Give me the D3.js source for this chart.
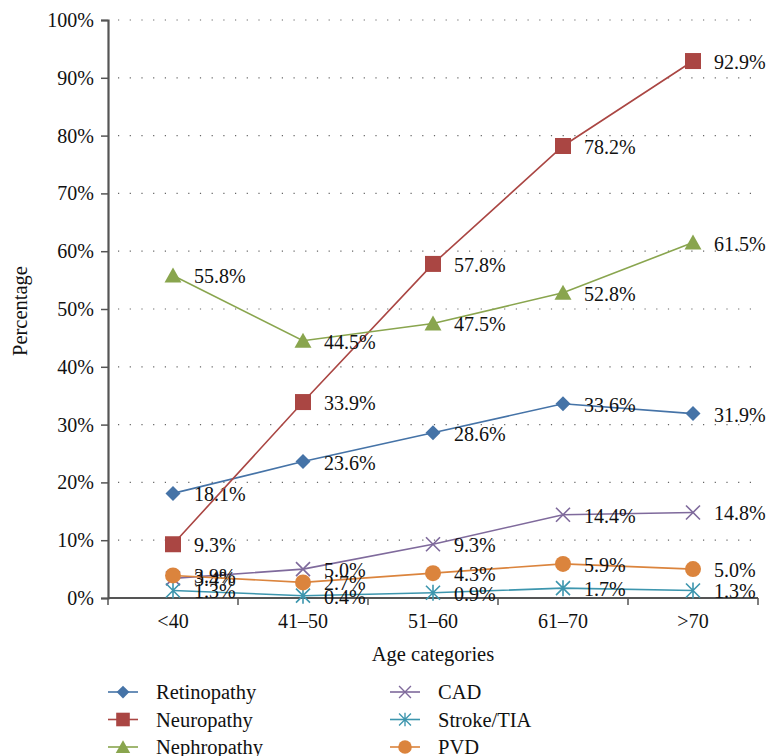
<!DOCTYPE html>
<html>
<head>
<meta charset="utf-8">
<script src="https://cdn.jsdelivr.net/npm/d3@7"></script>
<style>
  body { margin: 0; background: #fff; }
  text { font-family: "Liberation Serif", "DejaVu Serif", serif; fill: #111; }
</style>
</head>
<body>
<div id="chart"></div>
<script>
// chart data
const categories = ['<40', '41\u201350', '51\u201360', '61\u201370', '>70'];
const seriesNames = ['Retinopathy', 'Neuropathy', 'Nephropathy', 'CAD', 'Stroke/TIA', 'PVD'];
const retinopathy = [18.1, 23.6, 28.6, 33.6, 31.9];
const neuropathy = [9.3, 33.9, 57.8, 78.2, 92.9];
const nephropathy = [55.8, 44.5, 47.5, 52.8, 61.5];
const cad = [3.4, 5.0, 9.3, 14.4, 14.8];
const stroke = [1.3, 0.4, 0.9, 1.7, 1.3];
const pvd = [3.9, 2.7, 4.3, 5.9, 5.0];
const yTicks = [0, 10, 20, 30, 40, 50, 60, 70, 80, 90, 100];

const colors = ['#4573a7', '#aa4643', '#89a54e', '#7f6a9c', '#3d96ae', '#db843d'];
const shapes = ['diamond', 'square', 'triangle', 'x', 'star', 'circle'];
const allValues = [retinopathy, neuropathy, nephropathy, cad, stroke, pvd];

const series = seriesNames.map((name, i) => ({
  name, color: colors[i], shape: shapes[i],
  values: allValues[i].map((v, j) => ({ cat: categories[j], v }))
}));

const width = 767, height = 756;
const margin = { top: 20, right: 9, bottom: 158, left: 108 };
const innerW = width - margin.left - margin.right;
const innerH = height - margin.top - margin.bottom;
const fs = '20px';

const svg = d3.select('#chart').append('svg')
  .attr('width', width)
  .attr('height', height);

const g = svg.append('g')
  .attr('transform', 'translate(' + margin.left + ',' + margin.top + ')');

const x = d3.scaleBand().domain(categories).range([0, innerW]);
const y = d3.scaleLinear().domain([0, 100]).range([innerH, 0]);
const cx = d => x(d) + x.bandwidth() / 2;

// dotted gridlines
g.append('g').selectAll('line')
  .data(yTicks.filter(t => t > 0))
  .enter().append('line')
  .attr('x1', 0).attr('x2', innerW)
  .attr('y1', d => y(d)).attr('y2', d => y(d))
  .attr('stroke', '#666')
  .attr('stroke-width', 1.2)
  .attr('stroke-dasharray', '1.2 10.5')
  .attr('stroke-dashoffset', -10);

// y axis
const yAxis = g.append('g')
  .call(d3.axisLeft(y).tickValues(yTicks).tickFormat(d => d + '%').tickSize(7).tickPadding(7));
yAxis.select('.domain').attr('stroke', '#555').attr('stroke-width', 2.2);
yAxis.selectAll('.tick line').attr('stroke', '#555').attr('stroke-width', 1.5);
yAxis.selectAll('.tick text').style('font-size', fs).attr('fill', '#111');

// x axis (ticks at band edges)
const xAxis = g.append('g')
  .attr('transform', 'translate(0,' + innerH + ')');
xAxis.append('line')
  .attr('x1', 0).attr('x2', innerW)
  .attr('stroke', '#555').attr('stroke-width', 2.2);
xAxis.selectAll('.edge')
  .data(categories.concat(['end']))
  .enter().append('line')
  .attr('class', 'edge')
  .attr('x1', (d, i) => i * x.bandwidth()).attr('x2', (d, i) => i * x.bandwidth())
  .attr('y1', 0).attr('y2', 7)
  .attr('stroke', '#555').attr('stroke-width', 1.5);
xAxis.selectAll('.lbl')
  .data(categories)
  .enter().append('text')
  .attr('class', 'lbl')
  .attr('x', d => cx(d))
  .attr('y', 30)
  .attr('text-anchor', 'middle')
  .style('font-size', fs)
  .text(d => d);

// axis titles
svg.append('text')
  .attr('x', margin.left + innerW / 2)
  .attr('y', 661)
  .attr('text-anchor', 'middle')
  .style('font-size', '20.5px')
  .text('Age categories');

svg.append('text')
  .attr('transform', 'translate(27,' + 311 + ') rotate(-90)')
  .attr('text-anchor', 'middle')
  .style('font-size', '20.5px')
  .text('Percentage');

// marker drawing
function marker(sel, shape, color) {
  if (shape === 'circle') {
    sel.append('circle').attr('r', 8).attr('fill', color);
  } else if (shape === 'diamond') {
    sel.append('path').attr('d', 'M0,-7.5L7.5,0L0,7.5L-7.5,0Z').attr('fill', color);
  } else if (shape === 'square') {
    sel.append('rect').attr('x', -8).attr('y', -8).attr('width', 16).attr('height', 16).attr('fill', color);
  } else if (shape === 'triangle') {
    sel.append('path').attr('d', 'M0,-8L8.5,7L-8.5,7Z').attr('fill', color);
  } else if (shape === 'x') {
    sel.append('path').attr('d', 'M-7,-7L7,7M-7,7L7,-7')
      .attr('stroke', color).attr('stroke-width', 1.6).attr('fill', 'none');
  } else if (shape === 'star') {
    sel.append('path').attr('d', 'M-7,-7L7,7M-7,7L7,-7M0,-8L0,8')
      .attr('stroke', color).attr('stroke-width', 1.6).attr('fill', 'none');
  }
}

const line = d3.line()
  .x(d => cx(d.cat))
  .y(d => y(d.v));

const sg = g.selectAll('.series')
  .data(series)
  .enter().append('g')
  .attr('class', 'series');

sg.append('path')
  .attr('d', d => line(d.values))
  .attr('fill', 'none')
  .attr('stroke', d => d.color)
  .attr('stroke-width', 1.6);

sg.each(function (s) {
  d3.select(this).selectAll('.pt')
    .data(s.values)
    .enter().append('g')
    .attr('class', 'pt')
    .attr('transform', d => 'translate(' + cx(d.cat) + ',' + y(d.v) + ')')
    .each(function () { marker(d3.select(this), s.shape, s.color); });
});

// data labels
sg.each(function (s) {
  d3.select(this).selectAll('.val')
    .data(s.values)
    .enter().append('text')
    .attr('class', 'val')
    .attr('x', d => cx(d.cat) + 21)
    .attr('y', d => y(d.v) + 8)
    .style('font-size', fs)
    .text(d => d.v.toFixed(1) + '%');
});

// legend
const legend = svg.append('g');
const legItems = legend.selectAll('.leg')
  .data(series)
  .enter().append('g')
  .attr('class', 'leg')
  .attr('transform', (d, i) => 'translate(' + (i < 3 ? 108 : 390) + ',' + (692 + (i % 3) * 27.5) + ')');

legItems.append('line')
  .attr('x1', 0).attr('x2', 30)
  .attr('stroke', d => d.color).attr('stroke-width', 1.6);
legItems.append('g')
  .attr('transform', 'translate(15,0)')
  .each(function (d) {
    const m = d3.select(this).append('g').attr('transform', 'scale(0.85)');
    marker(m, d.shape, d.color);
  });
legItems.append('text')
  .attr('x', 48)
  .attr('y', 7)
  .style('font-size', '20.5px')
  .text(d => d.name);
</script>
</body>
</html>
